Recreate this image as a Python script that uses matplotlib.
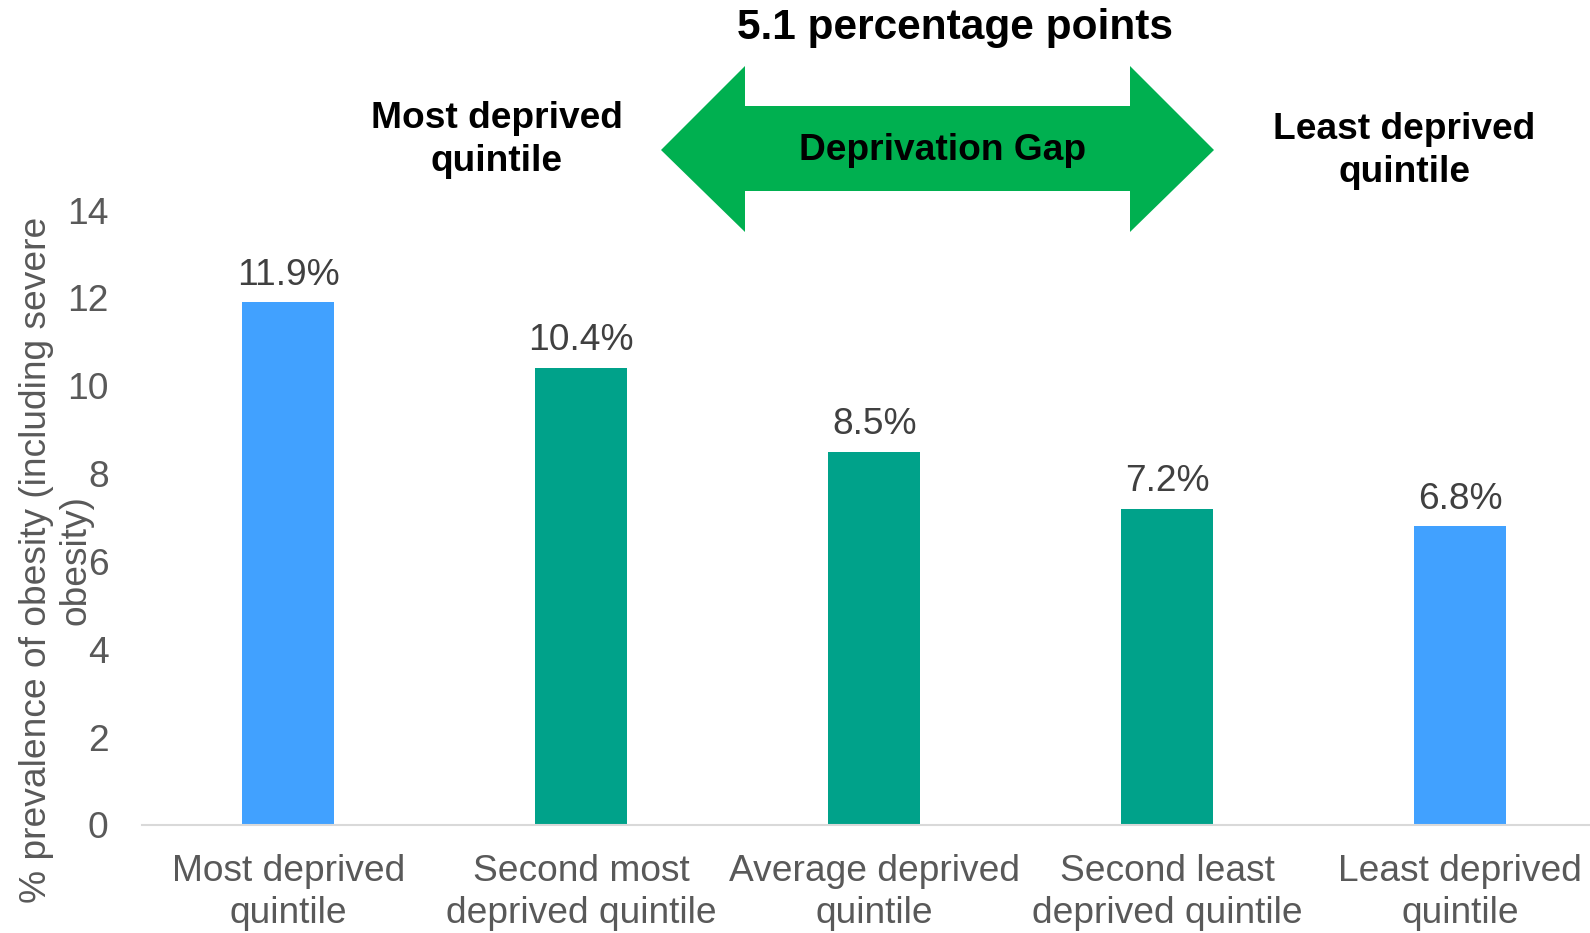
import matplotlib.pyplot as plt
from matplotlib.patches import Polygon

plt.rcParams['font.family'] = ['Liberation Sans', 'DejaVu Sans']

# data
categories = ["Most deprived\nquintile", "Second most\ndeprived quintile", "Average deprived\nquintile",
              "Second least\ndeprived quintile", "Least deprived\nquintile"]
values = [11.9, 10.4, 8.5, 7.2, 6.8]
colors = ["#41A1FF", "#00A28A", "#00A28A", "#00A28A", "#41A1FF"]
yticks = [0, 2, 4, 6, 8, 10, 12, 14]

W, H = 1590, 933
FS = 26.7
fig = plt.figure(figsize=(W / 100, H / 100), dpi=100)
ax = fig.add_axes([142 / W, 1 - 825 / H, (1606.5 - 142) / W, (825 - 210) / H])

x = range(len(values))
ax.bar(x, values, width=0.314, color=colors)
for i, v in enumerate(values):
    ax.annotate(f"{v}%", (i, v), xytext=(0, 7), textcoords="offset points",
                ha="center", va="bottom", fontsize=FS, color="#404040")

ax.set_xlim(-0.5, 4.5)
ax.set_ylim(0, 14)
ax.set_yticks(yticks)
ax.set_xticks(list(x))
ax.set_xticklabels(categories, fontsize=FS, color="#595959", linespacing=1.27)
ax.tick_params(axis="both", length=0, labelsize=FS, labelcolor="#595959")
ax.tick_params(axis="x", pad=21)
ax.tick_params(axis="y", pad=24)
for s in ["top", "right", "left"]:
    ax.spines[s].set_visible(False)
ax.spines["bottom"].set_color("#D9D9D9")
ax.spines["bottom"].set_linewidth(1.5)

fig.text(56 / W, 1 - 560 / H, "% prevalence of obesity (including severe\nobesity)",
         rotation=90, ha="center", va="center", fontsize=FS, color="#595959", linespacing=1.15)

# deprivation gap arrow
pts = [(661, 150), (745, 66), (745, 106), (1130, 106), (1130, 66), (1214, 150),
       (1130, 232), (1130, 191), (745, 191), (745, 232)]
arrow = Polygon([(px / W, 1 - py / H) for px, py in pts], closed=True,
                transform=fig.transFigure, facecolor="#00B050", edgecolor="none")
fig.patches.append(arrow)
fig.text(943 / W, 1 - 151 / H, "Deprivation Gap", ha="center", va="center",
         fontsize=FS, fontweight="bold", color="black")
fig.text(955 / W, 1 - 28 / H, "5.1 percentage points", ha="center", va="center",
         fontsize=30.5, fontweight="bold", color="black")
fig.text(497 / W, 1 - 140 / H, "Most deprived\nquintile", ha="center", va="center",
         fontsize=FS, fontweight="bold", color="black", linespacing=1.27)
fig.text(1404 / W, 1 - 151 / H, "Least deprived\nquintile", ha="center", va="center",
         fontsize=FS, fontweight="bold", color="black", linespacing=1.27)

fig.savefig("out.png", dpi=100)
